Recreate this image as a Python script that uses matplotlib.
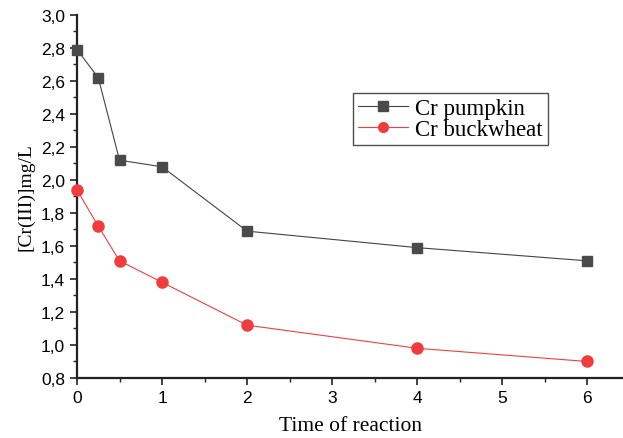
import matplotlib
matplotlib.use('Agg')
import matplotlib.pyplot as plt
from matplotlib.ticker import MultipleLocator, FuncFormatter

time = [0, 0.25, 0.5, 1, 2, 4, 6]
cr_pumpkin = [2.79, 2.62, 2.12, 2.08, 1.69, 1.59, 1.51]
cr_buckwheat = [1.94, 1.72, 1.51, 1.38, 1.12, 0.98, 0.90]

fig = plt.figure(figsize=(6.23, 4.39), dpi=100)
ax = fig.add_axes([0.1236, 0.1367, 0.8764, 0.8269])

ax.plot(time, cr_pumpkin, color='#444444', lw=0.8, marker='s', ms=7,
        mfc='#4a4a4a', mec='#4a4a4a', label='Cr pumpkin', clip_on=False, zorder=3)
ax.plot(time, cr_buckwheat, color='#f04040', lw=0.8, marker='o', ms=8,
        mfc='#f03c3c', mec='#f03c3c', label='Cr buckwheat', clip_on=False, zorder=3)

ax.set_xlim(0, 6.42)
ax.set_ylim(0.8, 3.0)
ax.xaxis.set_major_locator(MultipleLocator(1))
ax.xaxis.set_minor_locator(MultipleLocator(0.5))
ax.yaxis.set_major_locator(MultipleLocator(0.2))
ax.yaxis.set_minor_locator(MultipleLocator(0.1))
ax.yaxis.set_major_formatter(FuncFormatter(lambda v, p: ('%.1f' % v).replace('.', ',')))

for s in ['top', 'right']:
    ax.spines[s].set_visible(False)
for s in ['left', 'bottom']:
    ax.spines[s].set_linewidth(1.6)
    ax.spines[s].set_color('#222222')

ax.tick_params(which='major', direction='out', length=5, width=1.2, labelsize=12.5,
               color='#222222')
ax.tick_params(which='minor', direction='out', length=3, width=1.0, color='#222222')
for lab in ax.get_xticklabels() + ax.get_yticklabels():
    lab.set_family('Liberation Sans')

ax.set_xlabel('Time of reaction', family='Liberation Serif', fontsize=15.5, labelpad=8)
ax.set_ylabel('[Cr(III)]mg/L', family='Liberation Serif', fontsize=14)
ax.yaxis.set_label_coords(-0.078, 0.5)

leg = ax.legend(loc='upper left', bbox_to_anchor=(0.505, 0.785), frameon=True, fancybox=False,
                edgecolor='#222222', prop={'family': 'Liberation Serif', 'size': 16.5},
                handlelength=2.2, borderpad=0.22, labelspacing=0.0, handletextpad=0.3,
                borderaxespad=0)
leg.get_frame().set_linewidth(1.0)
for h in leg.get_lines():
    h.set_markersize(7)

fig.savefig('out.png', dpi=100)
